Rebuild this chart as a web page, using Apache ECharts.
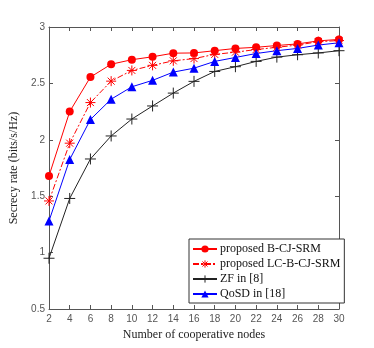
<!DOCTYPE html>
<html>
<head>
<meta charset="utf-8">
<script src="https://cdn.jsdelivr.net/npm/echarts@6/dist/echarts.min.js"></script>
<style>
  html, body { margin: 0; padding: 0; background: #fff; }
  #chart { width: 374px; height: 348px; }
</style>
</head>
<body>
<div id="chart"></div>
<script>
const nodes = [2, 4, 6, 8, 10, 12, 14, 16, 18, 20, 22, 24, 26, 28, 30];

const bcjSrm = [1.68, 2.25, 2.556, 2.67, 2.71, 2.736, 2.768, 2.77, 2.79, 2.81, 2.82, 2.836, 2.85, 2.877, 2.89];
const lcBcjSrm = [1.458, 1.97, 2.33, 2.52, 2.615, 2.66, 2.70, 2.72, 2.757, 2.777, 2.80, 2.82, 2.84, 2.87, 2.88];
const zf = [0.95, 1.48, 1.83, 2.034, 2.184, 2.30, 2.414, 2.518, 2.606, 2.648, 2.695, 2.733, 2.754, 2.77, 2.79];
const qosd = [1.28, 1.825, 2.18, 2.36, 2.47, 2.527, 2.60, 2.635, 2.695, 2.73, 2.765, 2.79, 2.81, 2.84, 2.86];

const seriesNames = ['proposed B-CJ-SRM', 'proposed LC-B-CJ-SRM', 'ZF in [8]', 'QoSD in [18]'];

const plusPath = 'path://M5 0L5 10M0 5L10 5';
const starPath = 'path://M5 0L5 10M0 5L10 5M1.5 1.5L8.5 8.5M1.5 8.5L8.5 1.5';

const chart = echarts.init(document.getElementById('chart'));

const pairs = (vals) => nodes.map((n, i) => [n, vals[i]]);

const tickFont = { fontFamily: 'Liberation Sans, Arial', fontSize: 10, color: '#555' };
const axisLine = { lineStyle: { color: '#555', width: 1 } };
const hollow = (c) => ({ color: 'rgba(0,0,0,0)', borderColor: c, borderWidth: 1 });

chart.setOption({
  animation: false,
  grid: { left: 49, right: 35, top: 27, bottom: 39 },
  legend: {
    orient: 'vertical',
    left: 189,
    top: 239,
    width: 142,
    backgroundColor: '#fff',
    borderColor: '#333',
    borderWidth: 1,
    padding: [4, 4, 3, 3],
    itemGap: 3,
    itemWidth: 24,
    itemHeight: 9,
    textStyle: { fontFamily: 'Liberation Serif, Times New Roman', fontSize: 12, color: '#111', padding: [0, 0, 0, -2] },
    data: [
      { name: seriesNames[0] },
      { name: seriesNames[1], itemStyle: hollow('#ff0000') },
      { name: seriesNames[2], itemStyle: hollow('#222') },
      { name: seriesNames[3] }
    ]
  },
  xAxis: [
    {
      type: 'value', min: 2, max: 30, interval: 2,
      name: 'Number of cooperative nodes', nameLocation: 'middle', nameGap: 20,
      nameTextStyle: { fontFamily: 'Liberation Serif, Times New Roman', fontSize: 12, color: '#222' },
      axisLine: axisLine,
      axisTick: { inside: true, length: 4, lineStyle: { color: '#555' } },
      axisLabel: Object.assign({ margin: 5 }, tickFont),
      splitLine: { show: false }
    },
    {
      type: 'value', min: 2, max: 30, interval: 2, position: 'top',
      axisLine: axisLine,
      axisTick: { inside: true, length: 4, lineStyle: { color: '#555' } },
      axisLabel: { show: false },
      splitLine: { show: false }
    }
  ],
  yAxis: [
    {
      type: 'value', min: 0.5, max: 3, interval: 0.5,
      name: 'Secrecy rate (bits/s/Hz)', nameLocation: 'middle', nameGap: 23,
      nameTextStyle: { fontFamily: 'Liberation Serif, Times New Roman', fontSize: 12, color: '#222' },
      axisLine: axisLine,
      axisTick: { inside: true, length: 4, lineStyle: { color: '#555' } },
      axisLabel: Object.assign({ margin: 4 }, tickFont),
      splitLine: { show: false }
    },
    {
      type: 'value', min: 0.5, max: 3, interval: 0.5, position: 'right',
      axisLine: axisLine,
      axisTick: { inside: true, length: 4, lineStyle: { color: '#555' } },
      axisLabel: { show: false },
      splitLine: { show: false }
    }
  ],
  series: [
    {
      name: seriesNames[0], type: 'line', data: pairs(bcjSrm),
      symbol: 'circle', symbolSize: 8,
      lineStyle: { color: '#ff0000', width: 1 },
      itemStyle: { color: '#ff0000' }
    },
    {
      name: seriesNames[1], type: 'line', data: pairs(lcBcjSrm),
      symbol: starPath, symbolSize: 10,
      lineStyle: { color: '#ff0000', width: 1, type: [6, 2, 2, 2] },
      itemStyle: hollow('#ff0000')
    },
    {
      name: seriesNames[2], type: 'line', data: pairs(zf),
      symbol: plusPath, symbolSize: 11,
      lineStyle: { color: '#222', width: 1 },
      itemStyle: hollow('#222')
    },
    {
      name: seriesNames[3], type: 'line', data: pairs(qosd),
      symbol: 'triangle', symbolSize: 9,
      lineStyle: { color: '#0000ff', width: 1 },
      itemStyle: { color: '#0000ff' }
    }
  ]
});
</script>
</body>
</html>
